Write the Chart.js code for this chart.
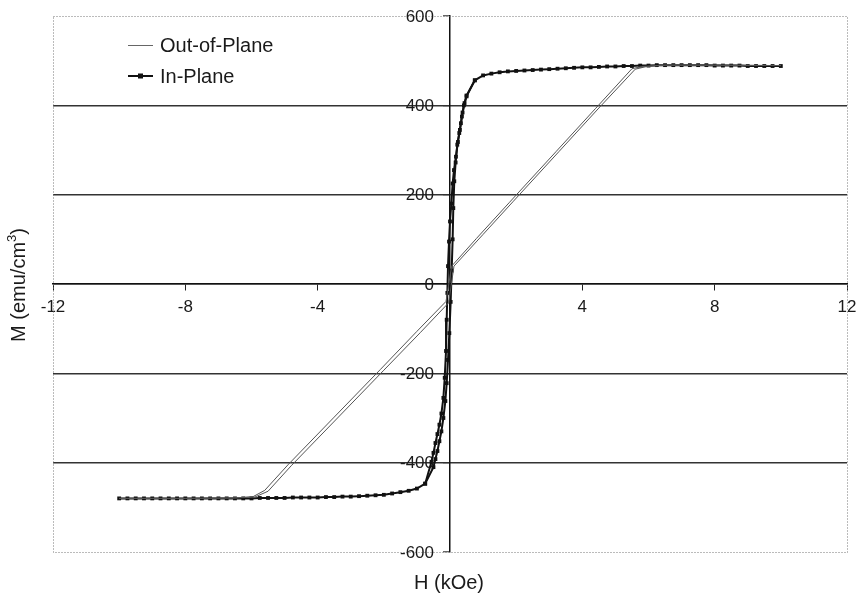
<!DOCTYPE html>
<html>
<head>
<meta charset="utf-8">
<script src="https://cdn.jsdelivr.net/npm/chart.js@4.4.1/dist/chart.umd.min.js"></script>
<style>
    body { margin: 0; background: #fff; }
    #wrap { width: 857px; height: 596px; position: relative; }
</style>
</head>
<body>
<div id="wrap"><canvas id="chart"></canvas></div>
<script>
const fontFamily = 'Arial, "Liberation Sans", sans-serif';

// axis ranges
const hRange = [-12, 12];
const hStep = 4;
const mRange = [-600, 600];
const mStep = 200;

// Out-of-Plane, field sweep down (+10 -> -10)
const oopDownH = [10, 8, 6.5, 5.8, 5.5, 4.4, 3.2, 1.8, 0.8, 0.05, -0.12, -1.0, -2.1, -3.5, -4.9, -5.6, -5.95, -6.5, -8, -10];
const oopDownM = [489, 490, 490, 487, 482, 393, 296, 183, 102, 40, -39, -106, -191, -298, -405, -462, -476, -479, -480, -480];

// Out-of-Plane, field sweep up (-10 -> +10)
const oopUpH = [-10, -8, -6.5, -5.9, -5.5, -4.8, -3.4, -2.0, -0.9, -0.04, 0.12, 1.0, 1.9, 3.3, 4.5, 5.6, 5.95, 6.5, 8, 10];
const oopUpM = [-480, -480, -479, -477, -464, -407, -300, -193, -109, -42, 40, 111, 184, 297, 394, 481, 487, 490, 490, 489];

// In-Plane, field sweep down (+10 -> -10)
const inPlaneDownH = [
    10, 9.75, 9.5, 9.25, 9, 8.75, 8.5, 8.25, 8, 7.75, 7.5, 7.25, 7, 6.75, 6.5, 6.25,
    6, 5.75, 5.5, 5.25, 5, 4.75, 4.5, 4.25, 4, 3.75, 3.5, 3.25, 3, 2.75, 2.5, 2.25,
    2, 1.75, 1.5, 1.25, 1, 0.75,
    0.5, 0.42, 0.36, 0.3, 0.24, 0.18, 0.12, 0.08, 0.04, 0, -0.03, -0.06, -0.08, -0.1,
    -0.12, -0.16, -0.2, -0.26, -0.32, -0.38, -0.44, -0.5, -0.56,
    -0.75, -1, -1.25, -1.5, -1.75, -2, -2.25, -2.5, -2.75, -3, -3.25, -3.5, -3.75,
    -4, -4.25, -4.5, -4.75, -5, -5.25, -5.5, -5.75, -6, -6.25, -6.5, -6.75, -7,
    -7.25, -7.5, -7.75, -8, -8.25, -8.5, -8.75, -9, -9.25, -9.5, -9.75, -10
];
const inPlaneDownM = [
    488, 488, 488, 488, 488, 489, 489, 489, 489, 490, 490, 490, 490, 490, 490, 490,
    489, 489, 488, 488, 487, 487, 486, 485, 485, 484, 483, 482, 481, 480, 479, 478,
    477, 476, 474, 471, 467, 456,
    420, 400, 375, 345, 318, 285, 255, 225, 180, 140, 95, 40, -20, -80,
    -150, -210, -255, -290, -315, -336, -356, -378, -398,
    -447, -458, -463, -466, -469, -472, -473, -474, -475, -476, -476, -477, -477,
    -478, -478, -478, -478, -479, -479, -479, -479, -480, -480, -480, -480, -480,
    -480, -480, -480, -480, -480, -480, -480, -480, -480, -480, -480, -480
];

// In-Plane, field sweep up, steep part only (saturation overlaps the down sweep)
const inPlaneUpH = [-0.75, -0.5, -0.44, -0.38, -0.32, -0.26, -0.2, -0.14, -0.1, -0.06, -0.02, 0.02, 0.05, 0.08, 0.1, 0.13, 0.17, 0.22, 0.28, 0.33, 0.38, 0.44, 0.5, 0.75];
const inPlaneUpM = [-447, -410, -392, -374, -352, -330, -300, -262, -222, -170, -110, -40, 30, 100, 170, 230, 272, 312, 338, 360, 384, 405, 422, 456];

function toPoints(xs, ys) {
    return xs.map((x, i) => ({ x: x, y: ys[i] }));
}

const excelFrame = {
    id: 'excelFrame',
    beforeDraw(chart) {
        const c = chart.ctx;
        c.save();
        c.fillStyle = '#fff';
        c.fillRect(0, 0, chart.width, chart.height);
        c.restore();
    },
    beforeDatasetsDraw(chart) {
        const a = chart.chartArea;
        const c = chart.ctx;
        c.save();
        c.strokeStyle = '#777';
        c.lineWidth = 1;
        c.setLineDash([1, 2]);
        c.strokeRect(Math.round(a.left) + 0.5, Math.round(a.top) + 0.5,
            Math.round(a.right - a.left), Math.round(a.bottom - a.top));
        c.restore();
    },
    afterDraw(chart) {
        const c = chart.ctx;
        const xs = chart.scales.x;
        const ys = chart.scales.y;
        c.save();
        c.fillStyle = '#1a1a1a';
        c.textBaseline = 'middle';

        // y tick labels, left of the axis crossing at H = 0
        c.font = '17px ' + fontFamily;
        c.textAlign = 'right';
        const axisX = xs.getPixelForValue(0);
        for (const t of ys.ticks) {
            c.fillText(String(t.value), axisX - 16, ys.getPixelForValue(t.value) + 1);
        }

        // legend
        c.font = '20px ' + fontFamily;
        c.textAlign = 'left';
        c.strokeStyle = '#666';
        c.lineWidth = 1;
        c.beginPath();
        c.moveTo(128, 45.5);
        c.lineTo(153, 45.5);
        c.stroke();
        c.fillText('Out-of-Plane', 160, 46);

        c.strokeStyle = '#111';
        c.lineWidth = 2;
        c.beginPath();
        c.moveTo(128, 76);
        c.lineTo(153, 76);
        c.stroke();
        c.fillStyle = '#111';
        c.fillRect(138, 73.5, 5, 5);
        c.fillStyle = '#1a1a1a';
        c.fillText('In-Plane', 160, 77);

        // x title
        c.textAlign = 'center';
        c.fillText('H (kOe)', 449, 583);

        // y title with superscript
        c.translate(19, 285);
        c.rotate(-Math.PI / 2);
        c.textAlign = 'left';
        const main = 'M (emu/cm';
        const tail = ')';
        c.font = '20px ' + fontFamily;
        const w1 = c.measureText(main).width;
        const w3 = c.measureText(tail).width;
        c.font = '13px ' + fontFamily;
        const w2 = c.measureText('3').width;
        let x0 = -(w1 + w2 + w3) / 2;
        c.font = '20px ' + fontFamily;
        c.fillText(main, x0, 0);
        c.font = '13px ' + fontFamily;
        c.fillText('3', x0 + w1, -7);
        c.font = '20px ' + fontFamily;
        c.fillText(tail, x0 + w1 + w2, 0);
        c.restore();
    }
};

const ctx = document.getElementById('chart').getContext('2d');
const chart = new Chart(ctx, {
    type: 'scatter',
    data: {
        datasets: [
            {
                label: 'Out-of-Plane',
                data: toPoints(oopDownH, oopDownM),
                showLine: true,
                borderColor: '#555',
                borderWidth: 1,
                pointRadius: 0,
            },
            {
                label: 'Out-of-Plane (up)',
                data: toPoints(oopUpH, oopUpM),
                showLine: true,
                borderColor: '#555',
                borderWidth: 1,
                pointRadius: 0,
            },
            {
                label: 'In-Plane',
                data: toPoints(inPlaneDownH, inPlaneDownM),
                showLine: true,
                borderColor: '#111',
                backgroundColor: '#111',
                borderWidth: 2,
                pointStyle: 'rect',
                pointRadius: 2.7,
                pointBorderWidth: 0,
            },
            {
                label: 'In-Plane (up)',
                data: toPoints(inPlaneUpH, inPlaneUpM),
                showLine: true,
                borderColor: '#111',
                backgroundColor: '#111',
                borderWidth: 2,
                pointStyle: 'rect',
                pointRadius: 2.7,
                pointBorderWidth: 0,
            },
        ],
    },
    options: {
        animation: false,
        responsive: true,
        maintainAspectRatio: false,
        layout: {
            padding: { left: 53, right: 10, top: 16, bottom: 44 },
        },
        scales: {
            x: {
                type: 'linear',
                min: hRange[0],
                max: hRange[1],
                position: { y: 0 },
                afterFit: (s) => {
                    // edge labels may hang past the plot frame, as in the original
                    s.paddingLeft = 0;
                    s.paddingRight = 0;
                },
                ticks: {
                    stepSize: hStep,
                    color: '#1a1a1a',
                    font: { family: fontFamily, size: 17 },
                    padding: 7,
                    maxRotation: 0,
                    autoSkip: false,
                    callback: (v) => (v === 0 ? '' : v),
                },
                grid: {
                    drawOnChartArea: false,
                    drawTicks: true,
                    tickLength: 6,
                    tickColor: '#222',
                    tickWidth: 1,
                },
                border: { display: true, color: '#111', width: 1.5 },
            },
            y: {
                type: 'linear',
                min: mRange[0],
                max: mRange[1],
                position: { x: 0 },
                ticks: {
                    stepSize: mStep,
                    display: false,
                },
                grid: {
                    color: (c) => (c.tick && Math.abs(c.tick.value) === 600 ? 'rgba(0,0,0,0)' : '#333'),
                    lineWidth: 1.5,
                    drawTicks: true,
                    tickLength: 6,
                    tickColor: '#333',
                    tickWidth: 1,
                },
                border: { display: true, color: '#111', width: 1.5 },
            },
        },
        plugins: {
            legend: { display: false },
            tooltip: { enabled: false },
        },
    },
    plugins: [excelFrame],
});
</script>
</body>
</html>
